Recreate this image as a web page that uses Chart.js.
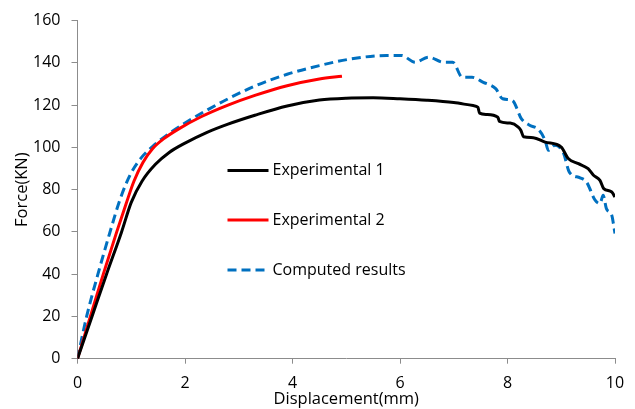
<!DOCTYPE html>
<html>
<head>
<meta charset="utf-8">
<script src="https://cdn.jsdelivr.net/npm/chart.js@4"></script>
<style>
  html, body { margin: 0; padding: 0; background: #fff; }
  #wrap { width: 635px; height: 409px; }
</style>
</head>
<body>
<div id="wrap"><canvas id="forceChart"></canvas></div>
<script>
// values
const exp1Disp = [0, 0.27, 0.54, 0.82, 1.0, 1.2, 1.45, 1.7, 2.0, 2.4, 2.8, 3.3, 3.9, 4.5, 5.0, 5.5, 6.0, 6.5, 7.0, 7.36, 7.45, 7.48, 7.61, 7.82, 7.85, 8.05, 8.20, 8.25, 8.30, 8.48, 8.70, 9.00, 9.13, 9.32, 9.50, 9.60, 9.72, 9.79, 9.94, 10.0];
const exp1Force = [0, 20, 40, 60, 74, 84, 92, 97.5, 102, 107, 111, 115.2, 119.6, 122.4, 123.3, 123.5, 123, 122.3, 121.2, 119.8, 119, 116.2, 115.6, 114.3, 112.3, 111.5, 109.6, 108, 105, 104.6, 102.5, 100.1, 94.7, 92.3, 89.9, 86.8, 84.4, 80.5, 78.9, 76.5];

const exp2Disp = [0, 0.24, 0.48, 0.73, 0.9, 1.05, 1.22, 1.4, 1.6, 1.9, 2.3, 2.8, 3.3, 3.9, 4.5, 4.92];
const exp2Force = [0, 20, 40, 60, 73, 84, 93, 99.5, 104, 109, 114.5, 120, 124.6, 129.2, 132.4, 133.7];

const compDisp = [0, 0.17, 0.38, 0.60, 0.80, 1.0, 1.2, 1.4, 1.7, 2.0, 2.4, 2.84, 3.3, 3.9, 4.5, 5.1, 5.75, 6.03, 6.28, 6.53, 6.81, 6.98, 7.16, 7.34, 7.55, 7.78, 7.91, 8.09, 8.26, 8.42, 8.58, 8.70, 8.76, 8.88, 9.04, 9.15, 9.35, 9.47, 9.63, 9.72, 9.78, 9.84, 9.94, 9.97, 10.0];
const compForce = [0, 20, 40, 59.5, 76, 88, 95.5, 100.5, 106.5, 111.5, 117.5, 123.5, 129, 134.6, 138.7, 141.9, 143.5, 143.5, 140.3, 142.7, 140.3, 140.3, 133.2, 133.2, 130.8, 127.8, 123, 122.2, 113.5, 110.4, 108.4, 103.3, 98.6, 101, 97.4, 88.3, 85.6, 83.6, 75, 73.4, 77.3, 71, 67.9, 64, 59.2];

const xTicks = [0, 2, 4, 6, 8, 10];
const yTicks = [0, 20, 40, 60, 80, 100, 120, 140, 160];

function toPoints(xs, ys) {
    return xs.map((x, i) => ({ x: x, y: ys[i] }));
}

const fontFamily = "'Open Sans', 'Noto Sans', sans-serif";
const axisColor = '#8c8c8c';

// legend drawn inside the plot area, like the original
const innerLegend = {
    id: 'innerLegend',
    afterDatasetsDraw(chart) {
        const c = chart.ctx;
        const rows = [170.5, 220, 270];
        chart.data.datasets.forEach((ds, i) => {
            const y = rows[i];
            c.save();
            c.strokeStyle = ds.borderColor;
            c.lineWidth = ds.borderWidth;
            c.setLineDash(ds.borderDash || []);
            c.beginPath();
            c.moveTo(227.5, y);
            c.lineTo(268.5, y);
            c.stroke();
            c.setLineDash([]);
            c.fillStyle = '#000';
            c.font = '16px ' + fontFamily;
            c.textBaseline = 'middle';
            c.textAlign = 'left';
            c.fillText(ds.label, 272.5, y);
            c.restore();
        });
    }
};

const ctx = document.getElementById('forceChart').getContext('2d');

const forceChart = new Chart(ctx, {
    type: 'scatter',
    data: {
        datasets: [{
            label: 'Experimental 1',
            data: toPoints(exp1Disp, exp1Force),
            borderColor: '#000000',
            borderWidth: 3,
        }, {
            label: 'Experimental 2',
            data: toPoints(exp2Disp, exp2Force),
            borderColor: '#ff0000',
            borderWidth: 3,
        }, {
            label: 'Computed results',
            data: toPoints(compDisp, compForce),
            borderColor: '#0070c0',
            borderWidth: 3,
            borderDash: [9, 5],
        }]
    },
    options: {
        responsive: true,
        maintainAspectRatio: false,
        animation: false,
        showLine: true,
        elements: {
            point: { radius: 0, hoverRadius: 0 },
            line: { cubicInterpolationMode: 'monotone', fill: false }
        },
        layout: {
            padding: { top: 20, right: 20, left: 0, bottom: 0 }
        },
        plugins: {
            legend: { display: false },
            tooltip: { enabled: false }
        },
        scales: {
            x: {
                type: 'linear',
                min: 0,
                max: 10,
                afterFit: function (scale) { scale.height = 50.3; },
                afterBuildTicks: function (scale) { scale.ticks = xTicks.map(v => ({ value: v })); },
                ticks: {
                    color: '#000',
                    font: { family: fontFamily, size: 16 },
                    padding: 10,
                    maxRotation: 0
                },
                grid: {
                    drawOnChartArea: false,
                    drawTicks: true,
                    tickLength: 5,
                    color: axisColor
                },
                border: { display: true, color: axisColor, width: 1 },
                title: {
                    display: true,
                    text: 'Displacement(mm)',
                    color: '#000',
                    font: { family: fontFamily, size: 16.5 },
                    padding: 0
                }
            },
            y: {
                type: 'linear',
                min: 0,
                max: 160,
                afterFit: function (scale) { scale.width = 77.5; },
                afterBuildTicks: function (scale) { scale.ticks = yTicks.map(v => ({ value: v })); },
                ticks: {
                    color: '#000',
                    font: { family: fontFamily, size: 16 },
                    padding: 11
                },
                grid: {
                    drawOnChartArea: false,
                    drawTicks: true,
                    tickLength: 6,
                    color: axisColor
                },
                border: { display: true, color: axisColor, width: 1 },
                title: {
                    display: true,
                    text: 'Force(KN)',
                    color: '#000',
                    font: { family: fontFamily, size: 16.5 },
                    padding: { top: 12, bottom: 0 }
                }
            }
        }
    },
    plugins: [innerLegend]
});
</script>
</body>
</html>
